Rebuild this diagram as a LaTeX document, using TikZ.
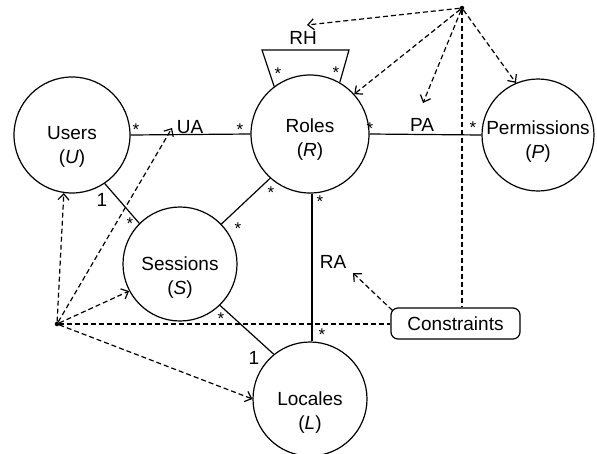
\documentclass[tikz,border=0pt]{standalone}
\usepackage{fontspec}
\setmainfont{Liberation Sans}
\usetikzlibrary{arrows.meta}
\begin{document}
\begin{tikzpicture}[x=1pt,y=-1pt,
  ent/.style={draw,circle,line width=1.2pt,inner sep=0pt},
  lbl/.style={font=\fontsize{19}{24}\selectfont,align=center,inner sep=0pt},
  tag/.style={font=\fontsize{19}{24}\selectfont,inner sep=0pt},
  st/.style={font=\fontsize{17}{17}\selectfont,inner sep=0pt},
  rel/.style={line width=1.2pt},
  dln/.style={line width=1.2pt,dash pattern=on 5pt off 3pt},
  dep/.style={dln,-{Straight Barb[length=6pt,width=11pt]}},
  dot/.style={circle,fill,inner sep=0pt,minimum size=4.5pt}]
\useasboundingbox (0,0) rectangle (597,453);
% entities
\node[ent,minimum size=116pt] (U) at (72,135) {};
\node[ent,minimum size=118pt] (R) at (310,134) {};
\node[ent,minimum size=112pt] (P) at (538,135) {};
\node[ent,minimum size=114pt] (S) at (180,264) {};
\node[ent,minimum size=114pt] (L) at (310,399) {};
\node[lbl] (Ut) at (72,147) {Users\\(\textit{U})};
\node[lbl] (Rt) at (310,140) {Roles\\(\textit{R})};
\node[lbl] (Pt) at (538,142) {Permissions\\(\textit{P})};
\node[lbl] (St) at (180,278) {Sessions\\(\textit{S})};
\node[lbl] (Lt) at (310,413) {Locales\\(\textit{L})};
\node[draw,rounded corners=7pt,line width=1.2pt,minimum width=129pt,minimum height=31pt,inner sep=0pt,font=\fontsize{19}{24}\selectfont] (C) at (455.5,323.5) {Constraints};
% relation labels
\node[tag] (UA) at (190,127) {UA};
\node[tag] (PA) at (422,125) {PA};
\node[tag] (RA) at (333,262) {RA};
\node[tag] (RH) at (303,38) {RH};
% relations
\draw[rel] (U.east) -- (R.west);
\draw[rel] (R.east) -- (P.west);
\draw[rel] (R.-88) -- (R.-88 |- L.north);
\draw[rel] (U.-56) -- (S.135);
\draw[rel] (S.44) -- (R.-132);
\draw[rel] (S.-46) -- (L.129);
\coordinate (rh1) at (262,50);
\coordinate (rh2) at (349,50);
\draw[rel] (R.127) -- (rh1) -- (rh2) -- (R.60);
% multiplicities
\node[st] (m1) at (136,130) {*};
\node[st] (m2) at (240,130) {*};
\node[st] (m3) at (370,129) {*};
\node[st] (m4) at (473,128) {*};
\node[st] (m5) at (278,74) {*};
\node[st] (m6) at (336,73) {*};
\node[tag] (m7) at (102,200) {1};
\node[st] (m8) at (130,224) {*};
\node[st] (m9) at (271,193) {*};
\node[st] (m10) at (238,229) {*};
\node[st] (m11) at (320,202) {*};
\node[st] (m12) at (322,335) {*};
\node[st] (m13) at (221,319) {*};
\node[tag] (m14) at (254,358) {1};
% constraint sources
\node[dot] (A) at (462,8) {};
\node[dot] (B) at (57,324) {};
\coordinate (rhtip) at (307,25);
\coordinate (patip) at (423,103);
\coordinate (uatip) at (172,128);
\coordinate (ratip) at (353,273);
\draw[dep] (A) -- (rhtip);
\draw[dep] (A) -- (R.42);
\draw[dep] (A) -- (patip);
\draw[dep] (A) -- (P.113);
\draw[dln] (A) -- (A |- C.north);
\draw[dep] (B) -- (U.-98);
\draw[dep] (B) -- (uatip);
\draw[dep] (B) -- (S.-152);
\draw[dep] (B) -- (L.180);
\draw[dln] (B) -- (B -| C.west);
\draw[dep] ([xshift=2pt,yshift=-3pt]C.north west) -- (ratip);
\end{tikzpicture}
\end{document}
